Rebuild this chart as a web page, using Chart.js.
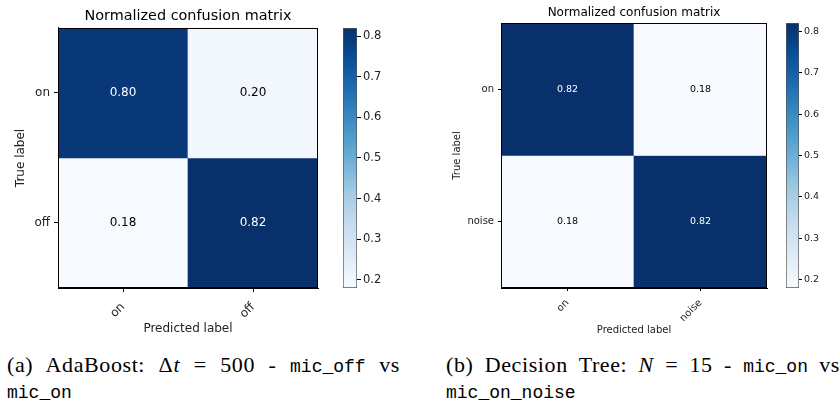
<!DOCTYPE html>
<html>
<head>
<meta charset="utf-8">
<script src="https://cdn.jsdelivr.net/npm/chart.js"></script>
<style>
body { margin: 0; background: #fff; width: 840px; height: 403px; position: relative; overflow: hidden; }
.box { position: absolute; }
.cap { position: absolute; font-family: "Liberation Serif", "DejaVu Serif", serif; font-size: 22px; line-height: 23px; color: #000; letter-spacing: 0.6px; }
.cap .l1 { text-align: justify; text-align-last: justify; white-space: nowrap; }
.tt { font-family: "Liberation Mono", "DejaVu Sans Mono", monospace; font-size: 18px; letter-spacing: 0; }
</style>
</head>
<body>
<div class="box" style="left:0;top:0;width:335px;height:345px"><canvas id="cmA"></canvas></div>
<div class="box" style="left:335px;top:0;width:60px;height:300px"><canvas id="cbA"></canvas></div>
<div class="box" style="left:440px;top:0;width:345px;height:345px"><canvas id="cmB"></canvas></div>
<div class="box" style="left:785px;top:0;width:55px;height:300px"><canvas id="cbB"></canvas></div>

<div class="cap" style="left:7px;top:353px;width:393px">
  <div class="l1">(a) AdaBoost: &Delta;<i>t</i> = 500 - <span class="tt">mic_off</span> vs</div>
  <div><span class="tt">mic_on</span></div>
</div>
<div class="cap" style="left:446px;top:353px;width:394px">
  <div class="l1">(b) Decision Tree: <i>N</i> = 15 - <span class="tt">mic_on</span> vs</div>
  <div><span class="tt">mic_on_noise</span></div>
</div>

<script>
// confusion matrices (rows = true label, columns = predicted label)
const classesA = ["on", "off"];
const valuesA = [[0.80, 0.20], [0.18, 0.82]];
const classesB = ["on", "noise"];
const valuesB = [[0.82, 0.18], [0.18, 0.82]];
const colorbarTicks = [0.2, 0.3, 0.4, 0.5, 0.6, 0.7, 0.8];

const TXT = '#222';
const FONT = 'DejaVu Sans';

// matplotlib "Blues"
const bluesStops = ['#f7fbff', '#deebf7', '#c6dbef', '#9ecae1', '#6baed6', '#4292c6', '#2171b5', '#08519c', '#08306b'];
function hex(c) { return [1, 3, 5].map(i => parseInt(c.slice(i, i + 2), 16)); }
function blues(t) {
    t = Math.min(1, Math.max(0, t));
    const p = t * (bluesStops.length - 1);
    const i = Math.min(Math.floor(p), bluesStops.length - 2);
    const f = p - i;
    const a = hex(bluesStops[i]), b = hex(bluesStops[i + 1]);
    return 'rgb(' + a.map((v, k) => Math.round(v + (b[k] - v) * f)).join(',') + ')';
}

function makeMatrix(id, classes, values, o) {
    const flat = values.flat();
    const vmin = Math.min(...flat), vmax = Math.max(...flat);
    const thresh = vmax / 2;
    const n = classes.length;

    const cellText = {
        id: 'cellText',
        afterDatasetsDraw(chart) {
            const { ctx, chartArea: a, scales: { x, y } } = chart;
            ctx.save();
            ctx.strokeStyle = '#000';
            ctx.lineWidth = 1;
            ctx.strokeRect(a.left + 0.5, a.top + 0.5, a.width - 1, a.height - 1);
            ctx.font = o.cellFont + 'px "' + FONT + '"';
            ctx.textAlign = 'center';
            ctx.textBaseline = 'middle';
            values.forEach((row, i) => row.forEach((v, j) => {
                ctx.fillStyle = v > thresh ? '#fff' : '#000';
                ctx.fillText(v.toFixed(2), x.getPixelForValue(j), y.getPixelForValue(i + 0.5));
            }));
            ctx.restore();
        }
    };

    new Chart(document.getElementById(id), {
        type: 'bar',
        data: {
            labels: classes,
            datasets: values.map((row, i) => ({
                data: classes.map(() => [i, i + 1]),
                backgroundColor: row.map(v => blues((v - vmin) / (vmax - vmin))),
                borderWidth: 0,
                barPercentage: 1,
                categoryPercentage: 1
            }))
        },
        options: {
            responsive: true,
            maintainAspectRatio: false,
            animation: false,
            layout: { padding: { left: 0, right: o.padRight, top: 0, bottom: 0 } },
            plugins: {
                legend: { display: false },
                tooltip: { enabled: false },
                title: {
                    display: true,
                    fullSize: false,
                    text: 'Normalized confusion matrix',
                    color: '#000',
                    font: { family: FONT, size: o.titleFont, weight: 'normal' },
                    padding: { top: o.titlePadTop, bottom: o.titlePadBottom }
                }
            },
            scales: {
                x: {
                    stacked: true,
                    afterFit: s => { s.height = o.xHeight; },
                    grid: { offset: false, drawOnChartArea: false, tickLength: o.tickLen, color: '#000' },
                    border: { display: true, color: '#000' },
                    ticks: { minRotation: 45, maxRotation: 45, color: TXT, padding: o.xTickPad, font: { family: FONT, size: o.tickFont } },
                    title: { display: true, text: 'Predicted label', color: TXT, font: { family: FONT, size: o.labelFont }, padding: { top: 0, bottom: o.xTitlePad } }
                },
                y: {
                    type: 'linear',
                    min: 0,
                    max: n,
                    reverse: true,
                    afterFit: s => { s.width = o.yWidth; },
                    afterBuildTicks: s => { s.ticks = classes.map((c, i) => ({ value: i + 0.5 })); },
                    grid: { drawOnChartArea: false, tickLength: o.tickLen, color: '#000' },
                    border: { display: true, color: '#000' },
                    ticks: { callback: (v, i) => classes[i], color: TXT, padding: 4, font: { family: FONT, size: o.tickFont } },
                    title: { display: true, text: 'True label', color: TXT, font: { family: FONT, size: o.labelFont }, padding: { top: o.yTitlePad, bottom: 0 } }
                }
            }
        },
        plugins: [cellText]
    });
}

function makeColorbar(id, values, o) {
    const flat = values.flat();
    const vmin = Math.min(...flat), vmax = Math.max(...flat);
    new Chart(document.getElementById(id), {
        type: 'bar',
        data: {
            labels: [''],
            datasets: [{
                data: [[vmin, vmax]],
                backgroundColor: c => {
                    const { ctx, chartArea } = c.chart;
                    if (!chartArea) return null;
                    const g = ctx.createLinearGradient(0, chartArea.bottom, 0, chartArea.top);
                    bluesStops.forEach((col, i) => g.addColorStop(i / (bluesStops.length - 1), col));
                    return g;
                },
                borderColor: '#555',
                borderWidth: 1,
                borderSkipped: false,
                barPercentage: 1,
                categoryPercentage: 1
            }]
        },
        options: {
            responsive: true,
            maintainAspectRatio: false,
            animation: false,
            layout: { padding: { left: o.padLeft, right: 0, top: o.padTop, bottom: o.padBottom } },
            plugins: { legend: { display: false }, tooltip: { enabled: false } },
            scales: {
                x: { display: false },
                y: {
                    position: 'right',
                    min: vmin,
                    max: vmax,
                    afterFit: s => { s.width = o.yWidth; },
                    afterBuildTicks: s => { s.ticks = colorbarTicks.map(v => ({ value: v })); },
                    grid: { drawOnChartArea: false, tickLength: o.tickLen, color: '#000' },
                    border: { display: false },
                    ticks: { callback: v => v.toFixed(1), color: TXT, padding: 2, font: { family: FONT, size: o.tickFont } }
                }
            }
        }
    });
}

makeMatrix('cmA', classesA, valuesA, {
    padRight: 17, yWidth: 58, xHeight: 57,
    titleFont: 14.4, titlePadTop: 7.4, titlePadBottom: 3.3,
    labelFont: 12, tickFont: 12, cellFont: 12, tickLen: 4, xTickPad: 8,
    xTitlePad: 8.8, yTitlePad: 13.3
});
makeColorbar('cbA', valuesA, { padLeft: 8, padTop: 28, padBottom: 12, yWidth: 38, tickLen: 4, tickFont: 11.5 });

makeMatrix('cmB', classesB, valuesB, {
    padRight: 18, yWidth: 61, xHeight: 57,
    titleFont: 12, titlePadTop: 5.8, titlePadBottom: 2.8,
    labelFont: 10, tickFont: 10, cellFont: 9.5, tickLen: 3, xTickPad: 6,
    xTitlePad: 9, yTitlePad: 11
});
makeColorbar('cbB', valuesB, { padLeft: 1, padTop: 23, padBottom: 12, yWidth: 41, tickLen: 3, tickFont: 9.5 });
</script>
</body>
</html>
